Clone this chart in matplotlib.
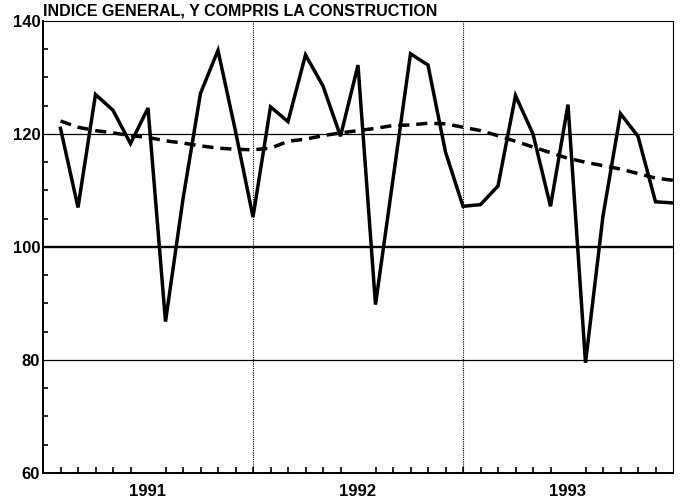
import numpy as np
from matplotlib import pyplot as plt

# monthly index, 1991-1993
months = np.arange(1, 37)
years = ['1991', '1992', '1993']

serie = [121, 107, 127, 124.2, 118.3, 124.6, 86.8, 108.5, 127.2, 134.8, 120.5, 105.3,
         124.8, 122.2, 134, 128.5, 119.6, 132.2, 89.8, 112, 134.2, 132.2, 116.8, 107.2,
         107.5, 110.8, 126.8, 120, 107.2, 125.2, 79.5, 105.5, 123.6, 119.6, 108, 107.8]

tendance = [122.3, 121.2, 120.6, 120.2, 119.7, 119.4, 118.8, 118.4, 117.9, 117.5, 117.3, 117.2,
            117.5, 118.7, 119.1, 119.7, 120.2, 120.6, 121.0, 121.5, 121.6, 121.9, 121.8, 121.2,
            120.6, 119.7, 118.7, 117.7, 116.7, 115.7, 115.0, 114.4, 113.8, 113.0, 112.2, 111.8]

plt.rcParams['font.family'] = ['Liberation Sans', 'DejaVu Sans']

fig = plt.figure(figsize=(6.82, 4.99), dpi=100)
ax = fig.add_axes([43 / 682, 26 / 499, 630 / 682, 452 / 499])

# grid
for v, lw in [(80, 0.9), (100, 1.7), (120, 0.9)]:
    ax.axhline(v, color='black', lw=lw, zorder=1)
for v in [12, 24]:
    ax.axvline(v, color='black', lw=0.8, ls=(0, (1, 1)), zorder=1)

ax.plot(months, serie, color='black', lw=2.5, solid_joinstyle='miter', zorder=3)
ax.plot(months, tendance, color='black', lw=2.5, ls=(0, (3.2, 2.0)), zorder=2)

ax.set_xlim(0, 36)
ax.set_ylim(60, 140)

ax.set_yticks([60, 80, 100, 120, 140])
ax.set_yticks(np.arange(60, 141, 5), minor=True)
ax.set_xticks([6, 18, 30])
ax.set_xticklabels(years)
ax.set_xticks(np.arange(1, 36), minor=True)

ax.tick_params(axis='both', which='both', direction='in', color='black')
ax.tick_params(axis='x', which='major', length=0, pad=8)
ax.tick_params(axis='x', which='minor', length=4, width=1.2)
ax.tick_params(axis='y', which='major', length=0, pad=2)
ax.tick_params(axis='y', which='minor', length=3.5, width=1.2)
for lab in ax.get_xticklabels() + ax.get_yticklabels():
    lab.set_fontweight('bold')
    lab.set_fontsize(12)

for s in ['left', 'bottom']:
    ax.spines[s].set_linewidth(1.4)
for s in ['top', 'right']:
    ax.spines[s].set_linewidth(0.8)
    ax.spines[s].set_linestyle((0, (1, 1)))

ax.text(0, 1.006, 'INDICE GENERAL, Y COMPRIS LA CONSTRUCTION', transform=ax.transAxes,
        ha='left', va='bottom', fontsize=11.5, fontweight='bold')

fig.savefig('out.png', dpi=100)
